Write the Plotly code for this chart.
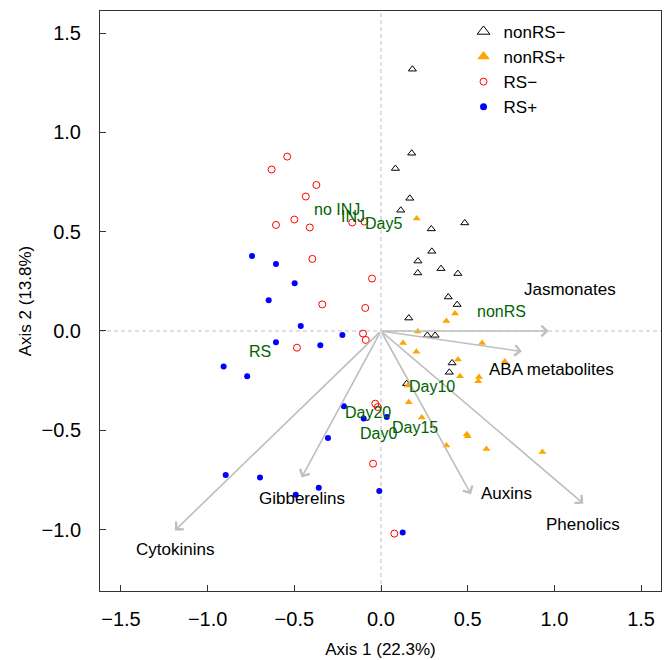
import plotly.graph_objects as go

# ---------------- data ----------------
nonRSm_x = [0.181, 0.177, 0.083, 0.166, 0.114, 0.290, 0.483, 0.293, 0.213, 0.212,
            0.346, 0.443, 0.388, 0.439, 0.160, 0.267, 0.312, 0.410, 0.394, 0.148]
nonRSm_y = [1.318, 0.895, 0.818, 0.668, 0.608, 0.514, 0.544, 0.401, 0.352, 0.292,
            0.314, 0.289, 0.171, 0.133, 0.065, -0.022, -0.022, -0.161, -0.208, -0.265]

nonRSp_x = [0.206, 0.427, 0.377, 0.212, 0.127, 0.204, 0.583, 0.444, 0.456, 0.565,
            0.561, 0.714, 0.154, 0.160, 0.235, 0.495, 0.500, 0.377, 0.608, 0.931]
nonRSp_y = [0.566, 0.088, 0.050, -0.003, -0.060, -0.104, -0.060, -0.144, -0.228, -0.232,
            -0.253, -0.154, -0.275, -0.359, -0.436, -0.520, -0.530, -0.577, -0.594, -0.609]

RSm_x = [-0.541, -0.631, -0.373, -0.434, -0.606, -0.500, -0.411, -0.166, -0.096, -0.396,
         -0.052, -0.339, -0.091, -0.104, -0.088, -0.485, -0.033, -0.019, -0.046, 0.077]
RSm_y = [0.878, 0.813, 0.735, 0.677, 0.534, 0.561, 0.521, 0.546, 0.551, 0.363,
         0.264, 0.134, 0.116, -0.013, -0.045, -0.084, -0.366, -0.383, -0.668, -1.020]

RSp_x = [-0.744, -0.606, -0.498, -0.648, -0.463, -0.606, -0.350, -0.223, -0.908, -0.772,
         -0.214, -0.100, 0.033, -0.306, -0.896, -0.698, -0.492, -0.359, -0.010, 0.125]
RSp_y = [0.378, 0.337, 0.240, 0.155, 0.025, -0.057, -0.072, -0.020, -0.179, -0.228,
         -0.379, -0.441, -0.433, -0.539, -0.725, -0.738, -0.824, -0.789, -0.806, -1.014]

# variable vectors (arrows)
var_names = ["Jasmonates", "ABA metabolites", "Phenolics", "Auxins", "Gibberelins", "Cytokinins"]
var_x = [0.966, 0.812, 1.167, 0.519, -0.458, -1.189]
var_y = [0.000, -0.103, -0.869, -0.822, -0.738, -1.004]
var_lab_x = [1.091, 0.985, 1.167, 0.725, -0.455, -1.189]
var_lab_y = [0.208, -0.195, -0.973, -0.816, -0.841, -1.099]

# factor centroids (green labels)
fac_names = ["no INJ", "INJ", "Day5", "nonRS", "RS", "Day20", "Day0", "Day15", "Day10"]
fac_x = [-0.254, -0.163, 0.016, 0.696, -0.698, -0.078, -0.016, 0.194, 0.295]
fac_y = [0.611, 0.574, 0.541, 0.099, -0.102, -0.408, -0.517, -0.487, -0.278]

tick_vals = [-1.5, -1.0, -0.5, 0.0, 0.5, 1.0, 1.5]
x_range = [-1.621, 1.615]
y_range = [-1.309, 1.611]

FONT = "Liberation Sans, Arial, Helvetica, sans-serif"
GREEN = "#006400"
ARROW = "#BEBEBE"

fig = go.Figure()

groups = [
    ("nonRS\u2212", nonRSm_x, nonRSm_y, dict(symbol="triangle-up-open", color="black", size=7, line=dict(width=1, color="black"))),
    ("nonRS+", nonRSp_x, nonRSp_y, dict(symbol="triangle-up", color="#FFA500", size=7, line=dict(width=0))),
    ("RS\u2212", RSm_x, RSm_y, dict(symbol="circle-open", color="#FF0000", size=7, line=dict(width=1, color="#FF0000"))),
    ("RS+", RSp_x, RSp_y, dict(symbol="circle", color="#0000FF", size=6, line=dict(width=0))),
]
legend_sizes = [11, 11, 7, 7]

for (name, xs, ys, mk) in groups:
    fig.add_trace(go.Scatter(x=xs, y=ys, mode="markers", marker=mk, name=name,
                             showlegend=False, hoverinfo="skip", cliponaxis=False))
for (name, xs, ys, mk), sz in zip(groups, legend_sizes):
    m2 = dict(mk)
    m2["size"] = sz
    fig.add_trace(go.Scatter(x=[None], y=[None], mode="markers", marker=m2, name=name,
                             showlegend=True))

annotations = []
for vx, vy in zip(var_x, var_y):
    annotations.append(dict(x=vx, y=vy, ax=0, ay=0, xref="x", yref="y", axref="x", ayref="y",
                            text="", showarrow=True, arrowhead=4, arrowsize=1.3,
                            arrowwidth=1.6, arrowcolor=ARROW, standoff=0, startstandoff=0))
for nm, lx, ly in zip(var_names, var_lab_x, var_lab_y):
    annotations.append(dict(x=lx, y=ly, xref="x", yref="y", text=nm, showarrow=False,
                            font=dict(family=FONT, size=17, color="black"),
                            xanchor="center", yanchor="middle"))
for nm, lx, ly in zip(fac_names, fac_x, fac_y):
    annotations.append(dict(x=lx, y=ly, xref="x", yref="y", text=nm, showarrow=False,
                            font=dict(family=FONT, size=16, color=GREEN),
                            xanchor="center", yanchor="middle"))

shapes = [
    dict(type="line", xref="x", yref="paper", x0=0, x1=0, y0=0, y1=1,
         line=dict(color="#C0C0C0", width=1, dash="4px,3px"), layer="below"),
    dict(type="line", xref="paper", yref="y", x0=0, x1=1, y0=0, y1=0,
         line=dict(color="#C0C0C0", width=1, dash="4px,3px"), layer="below"),
]

axis_common = dict(showgrid=False, zeroline=False, showline=True, mirror=True,
                   linecolor="#333333", linewidth=1, ticks="inside", ticklen=6,
                   tickcolor="#333333", tickvals=tick_vals, tickformat=".1f",
                   automargin=False,
                   tickfont=dict(family=FONT, size=20, color="black"))

fig.update_layout(
    width=668, height=660,
    margin=dict(l=100, r=7, t=11, b=69),
    paper_bgcolor="white", plot_bgcolor="white",
    font=dict(family=FONT, color="black"),
    xaxis=dict(range=x_range, ticklabelstandoff=10,
               title=dict(text="Axis 1 (22.3%)", font=dict(family=FONT, size=17), standoff=14),
               **axis_common),
    yaxis=dict(range=y_range, ticklabelstandoff=14,
               title=dict(text="Axis 2 (13.8%)", font=dict(family=FONT, size=17), standoff=5),
               **axis_common),
    legend=dict(x=0.648, y=0.995, xanchor="left", yanchor="top",
                bgcolor="rgba(0,0,0,0)", borderwidth=0,
                font=dict(family=FONT, size=17, color="black"),
                itemwidth=30, tracegroupgap=0),
    annotations=annotations,
    shapes=shapes,
    showlegend=True,
)

fig.write_html("out.html")
